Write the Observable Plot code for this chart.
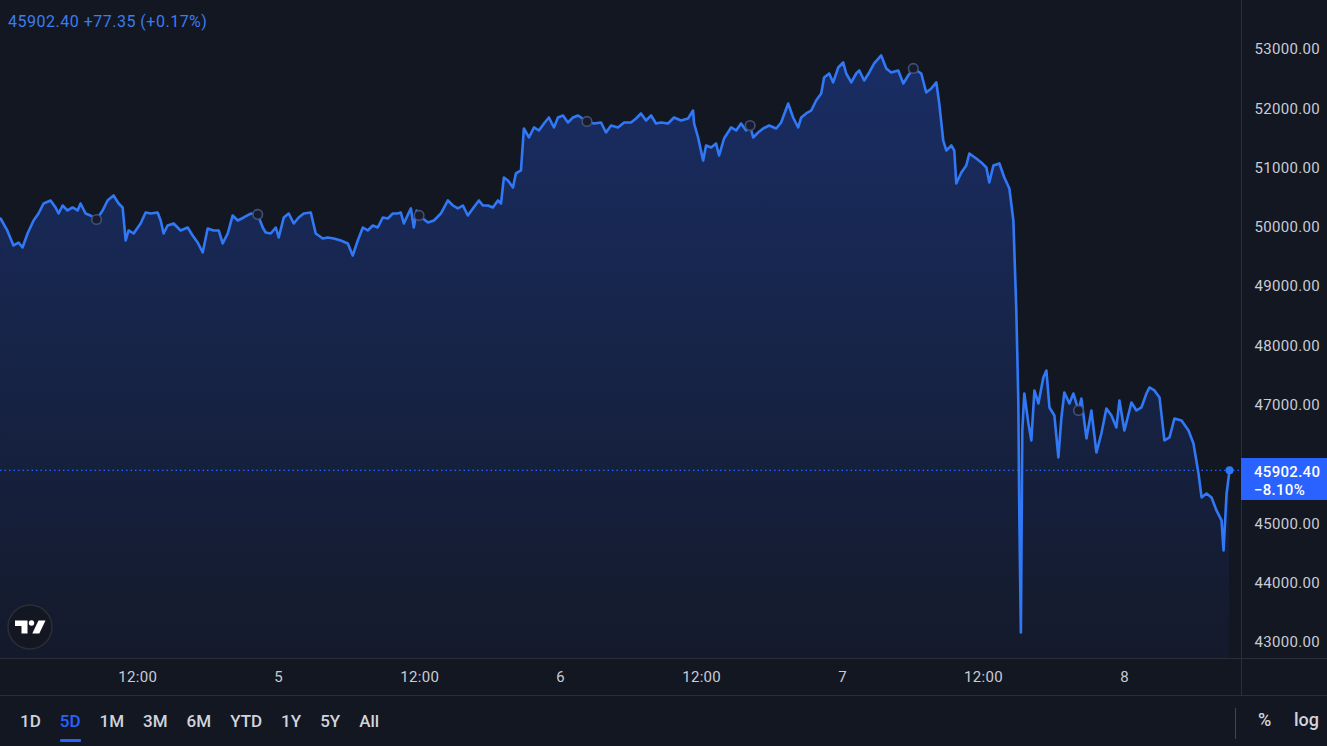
<!DOCTYPE html>
<html>
<head>
<meta charset="utf-8">
<script src="https://cdn.jsdelivr.net/npm/d3@7"></script>
<script src="https://cdn.jsdelivr.net/npm/@observablehq/plot@0.6"></script>
<style>
html, body { margin: 0; padding: 0; background: #131722; }
#wrap { position: relative; width: 1327px; height: 746px; overflow: hidden; background: #131722; font-family: Roboto, "Liberation Sans", sans-serif; }
#chart svg { display: block; overflow: hidden; }
.hline { position: absolute; left: 0; width: 1327px; height: 1px; background: #2a2e39; }
.vline { position: absolute; width: 1px; background: #2a2e39; }
#header { position: absolute; left: 8px; top: 12px; font-size: 16px; letter-spacing: 0.5px; color: #3b7cf0; white-space: nowrap; }
#plabel { position: absolute; left: 1241px; width: 86px; height: 42px; background: #2962ff; color: #fff; font-size: 15px; font-weight: 500; letter-spacing: 0.3px; box-sizing: border-box; padding: 5px 0 0 13px; line-height: 18px; }
#toolbar { position: absolute; left: 0; top: 696px; width: 1327px; height: 50px; }
#ranges { position: absolute; left: 20px; top: 0; height: 50px; display: flex; align-items: center; gap: 19px; }
#ranges span { position: relative; font-size: 17px; font-weight: 500; color: #d1d4dc; }
#ranges span.active { color: #2962ff; }
#ranges span.active::after { content: ""; position: absolute; left: 0; right: 0; top: 28px; height: 3px; background: #2962ff; border-radius: 1px; }
.tool { position: absolute; top: 13px; font-size: 18px; font-weight: 500; color: #d1d4dc; }
</style>
</head>
<body>
<div id="wrap">
  <div id="chart"></div>
  <div class="hline" style="top:658px"></div>
  <div class="hline" style="top:695px"></div>
  <div class="vline" style="left:1241px; top:0; height:695px"></div>
  <div class="vline" style="left:1235px; top:708px; height:31px; background:#434651"></div>
  <div id="header"></div>
  <div id="plabel"></div>
  <svg id="logo" width="60" height="60" style="position:absolute; left:0; top:597px">
    <circle cx="30" cy="30" r="22" fill="#131722" stroke="#2a2e39" stroke-width="1.5"></circle>
    <path d="M15 23.5h12.5v13h-6v-7.5h-6.5z" fill="#ffffff"></path>
    <circle cx="31.5" cy="26" r="2.7" fill="#ffffff"></circle>
    <path d="M38.5 23.5h7l-6.2 13h-7z" fill="#ffffff"></path>
  </svg>
  <div id="toolbar">
    <div id="ranges"></div>
    <span class="tool" style="left:1258px">%</span>
    <span class="tool" style="left:1294px">log</span>
  </div>
</div>
<script>
// ---- Data (BTC, 4–8 Sep 2021, UTC) ----
const startUTC = Date.UTC(2021, 8, 4); // hours below are counted from 4 Sep 00:00 UTC
const hours = [
  0.32, 0.89, 1.42, 1.85, 2.19, 2.62, 3.13, 3.55, 3.98, 4.58, 5.00, 5.26, 5.60, 6.02, 6.45, 6.88, 7.13, 7.56, 7.98, 8.49,
  9.01, 9.43, 9.94, 10.37, 10.71, 10.97, 11.22, 11.65, 12.24, 12.67, 13.10, 13.69, 13.95, 14.20, 14.54, 15.05, 15.65, 16.25, 16.67, 17.10,
  17.53, 17.95, 18.46, 18.89, 19.23, 19.66, 20.08, 20.51, 21.02, 21.62, 22.21, 22.64, 22.89, 23.32, 23.75, 24.00, 24.43, 24.85, 25.28, 25.70,
  26.13, 26.73, 27.15, 27.75, 28.17, 28.69, 29.28, 29.88, 30.30, 30.73, 31.16, 31.58, 32.01, 32.43, 32.86, 33.29, 33.71, 34.14, 34.39, 34.65,
  35.08, 35.25, 35.50, 35.74, 35.95, 36.70, 37.21, 37.80, 38.40, 38.83, 39.25, 39.68, 40.10, 40.53, 41.04, 41.38, 41.81, 42.23, 42.66, 42.92,
  43.17, 43.51, 43.94, 44.19, 44.62, 44.87, 45.30, 45.73, 46.15, 46.58, 47.00, 47.43, 47.77, 48.20, 48.62, 49.05, 49.48, 50.24, 50.84, 51.44,
  51.86, 52.29, 52.88, 53.40, 53.99, 54.42, 54.84, 55.27, 55.70, 56.12, 56.55, 57.14, 57.65, 58.25, 58.85, 59.27, 59.36, 59.70, 60.13, 60.38,
  60.81, 61.23, 61.49, 61.91, 62.51, 62.94, 63.36, 63.79, 64.13, 64.39, 64.81, 65.24, 65.75, 66.35, 66.77, 67.37, 67.79, 68.22, 68.48, 68.90,
  69.33, 69.75, 70.18, 70.43, 70.86, 71.20, 71.63, 72.05, 72.31, 72.74, 73.16, 73.42, 73.84, 74.27, 74.69, 75.29, 75.72, 76.14, 76.74, 77.17,
  77.59, 78.02, 78.70, 79.12, 79.55, 79.98, 80.23, 80.57, 80.83, 81.26, 81.51, 81.68, 82.11, 82.53, 82.79, 83.38, 83.81, 84.24, 84.49, 84.84,
  85.35, 85.77, 86.20, 86.54, 86.79, 86.96, 87.05, 87.18, 87.30, 87.47, 87.82, 88.07, 88.33, 88.67, 89.09, 89.35, 89.61, 90.03, 90.37, 90.63,
  90.88, 91.31, 91.65, 92.08, 92.33, 92.76, 93.18, 93.61, 94.03, 94.46, 94.89, 95.31, 95.57, 95.99, 96.59, 97.02, 97.44, 97.87, 98.12, 98.55,
  98.98, 99.40, 99.83, 100.25, 100.85, 101.45, 101.87, 102.30, 102.56, 102.98, 103.41, 103.83, 104.26, 104.43, 104.69, 104.94
];
const prices = [
  50150, 49948, 49695, 49745, 49661, 49897, 50116, 50234, 50403, 50454, 50336, 50234, 50369, 50285, 50336, 50285, 50403, 50234, 50201, 50133,
  50285, 50454, 50538, 50403, 50336, 49779, 49948, 49897, 50066, 50251, 50234, 50251, 50116, 49897, 50032, 50066, 49948, 49998, 49863, 49745,
  49577, 49982, 49948, 49948, 49729, 49897, 50201, 50116, 50167, 50234, 50218, 49998, 49914, 49897, 49998, 49830, 50167, 50234, 50066, 50167,
  50234, 50251, 49897, 49813, 49830, 49813, 49779, 49729, 49526, 49779, 49998, 49948, 50032, 49998, 50167, 50150, 50234, 50234, 50251, 50066,
  50251, 50319, 49998, 50285, 50201, 50083, 50116, 50234, 50454, 50369, 50319, 50369, 50201, 50319, 50454, 50369, 50369, 50336, 50454, 50403,
  50842, 50791, 50673, 50909, 50960, 51668, 51516, 51685, 51634, 51752, 51853, 51685, 51853, 51887, 51769, 51853, 51887, 51786, 51752, 51769,
  51600, 51718, 51685, 51769, 51769, 51836, 51921, 51803, 51887, 51752, 51769, 51752, 51853, 51803, 51836, 51971, 51752, 51516, 51128, 51381,
  51347, 51415, 51212, 51499, 51685, 51634, 51752, 51634, 51718, 51516, 51600, 51668, 51718, 51668, 51769, 52089, 51853, 51685, 51853, 51921,
  51971, 52140, 52258, 52528, 52595, 52444, 52696, 52781, 52595, 52444, 52595, 52646, 52477, 52612, 52764, 52899, 52680, 52612, 52646, 52427,
  52562, 52680, 52595, 52275, 52342, 52444, 52089, 51465, 51297, 51381, 51297, 50740, 50926, 51044, 51246, 51162, 51095, 51010, 50757, 51044,
  51078, 50842, 50656, 50116, 48599, 47081, 45058, 43169, 46575, 47199, 46693, 46407, 47250, 47031, 47469, 47587, 46963, 46828, 46120, 46794,
  47216, 47031, 47199, 46912, 47115, 46441, 46912, 46204, 46525, 46946, 46828, 46626, 47081, 46575, 47047, 46912, 46963, 47199, 47300, 47250,
  47132, 46407, 46457, 46777, 46744, 46575, 46356, 45850, 45446, 45513, 45446, 45227, 45058, 44552, 45513, 45902.40
];
// session markers on the line
const markerHours = [8.49, 22.21, 35.95, 50.24, 64.13, 78.02, 92.08];
const markerPrices = [50133, 50218, 50201, 51786, 51718, 52680, 46912];

const lastPrice = 45902.40;
const dayChange = 77.35;
const dayChangePct = 0.17;
const periodChangePct = -8.10;

const xTickHours = [12, 24, 36, 48, 60, 72, 84, 96];
const xTickLabels = ["12:00", "5", "12:00", "6", "12:00", "7", "12:00", "8"];
const yTicks = [43000, 44000, 45000, 46000, 47000, 48000, 49000, 50000, 51000, 52000, 53000];
const ranges = ["1D", "5D", "1M", "3M", "6M", "YTD", "1Y", "5Y", "All"];
const activeRange = "5D";

const xDomainHours = [0.315, 105.96];
const yDomain = [42730, 53826];

// ---- Build ----
const toDate = h => new Date(startUTC + h * 3600e3);
const data = hours.map((h, i) => ({t: toDate(h), price: prices[i]}));
const markers = markerHours.map((h, i) => ({t: toDate(h), price: markerPrices[i]}));
const tickDates = xTickHours.map(toDate);
const labelMap = new Map(tickDates.map((d, i) => [+d, xTickLabels[i]]));
const last = data[data.length - 1];

const LINE = "#3178f6";

const chart = Plot.plot({
  width: 1327,
  height: 696,
  marginLeft: 0,
  marginRight: 86,
  marginTop: 0,
  marginBottom: 38,
  style: {background: "transparent", color: "#c9ccd4", fontFamily: "Roboto, 'Liberation Sans', sans-serif", fontSize: "15px", letterSpacing: "0.3px"},
  x: {type: "utc", domain: xDomainHours.map(toDate), ticks: tickDates, tickFormat: d => labelMap.get(+d), tickSize: 0, tickPadding: 13, label: null},
  y: {domain: yDomain, axis: "right", ticks: yTicks, tickFormat: d => d.toFixed(2), tickSize: 0, tickPadding: 13, label: null},
  marks: [
    Plot.areaY(data, {x: "t", y1: yDomain[0], y2: "price", fill: "url(#areaGrad)"}),
    Plot.ruleY([lastPrice], {stroke: "#2962ff", strokeWidth: 1.2, strokeDasharray: "1.5,3"}),
    Plot.lineY(data, {x: "t", y: "price", stroke: LINE, strokeWidth: 2.6, strokeLinejoin: "round", strokeLinecap: "round"}),
    Plot.dot(markers, {x: "t", y: "price", r: 4.8, fill: "#161c2e", stroke: "#435072", strokeWidth: 1.6}),
    Plot.dot([last], {x: "t", y: "price", r: 4, fill: LINE})
  ]
});

// gradient for the area fill
const defs = d3.select(chart).insert("defs", ":first-child");
const grad = defs.append("linearGradient").attr("id", "areaGrad").attr("x1", 0).attr("y1", 0).attr("x2", 0).attr("y2", 1);
grad.append("stop").attr("offset", "0%").attr("stop-color", "#2962ff").attr("stop-opacity", 0.30);
grad.append("stop").attr("offset", "100%").attr("stop-color", "#2962ff").attr("stop-opacity", 0.04);

document.getElementById("chart").appendChild(chart);

// header
document.getElementById("header").textContent =
  `${lastPrice.toFixed(2)} +${dayChange.toFixed(2)} (+${dayChangePct.toFixed(2)}%)`;

// price label on the right axis, positioned with the chart's own y scale
const py = chart.scale("y").apply(lastPrice);
const pl = document.getElementById("plabel");
pl.style.top = (py - 12) + "px";
pl.innerHTML = `${lastPrice.toFixed(2)}<br>${periodChangePct < 0 ? "\u2212" : "+"}${Math.abs(periodChangePct).toFixed(2)}%`;

// range toolbar
const rg = document.getElementById("ranges");
ranges.forEach(r => {
  const s = document.createElement("span");
  s.textContent = r;
  if (r === activeRange) s.className = "active";
  rg.appendChild(s);
});
</script>
</body>
</html>
